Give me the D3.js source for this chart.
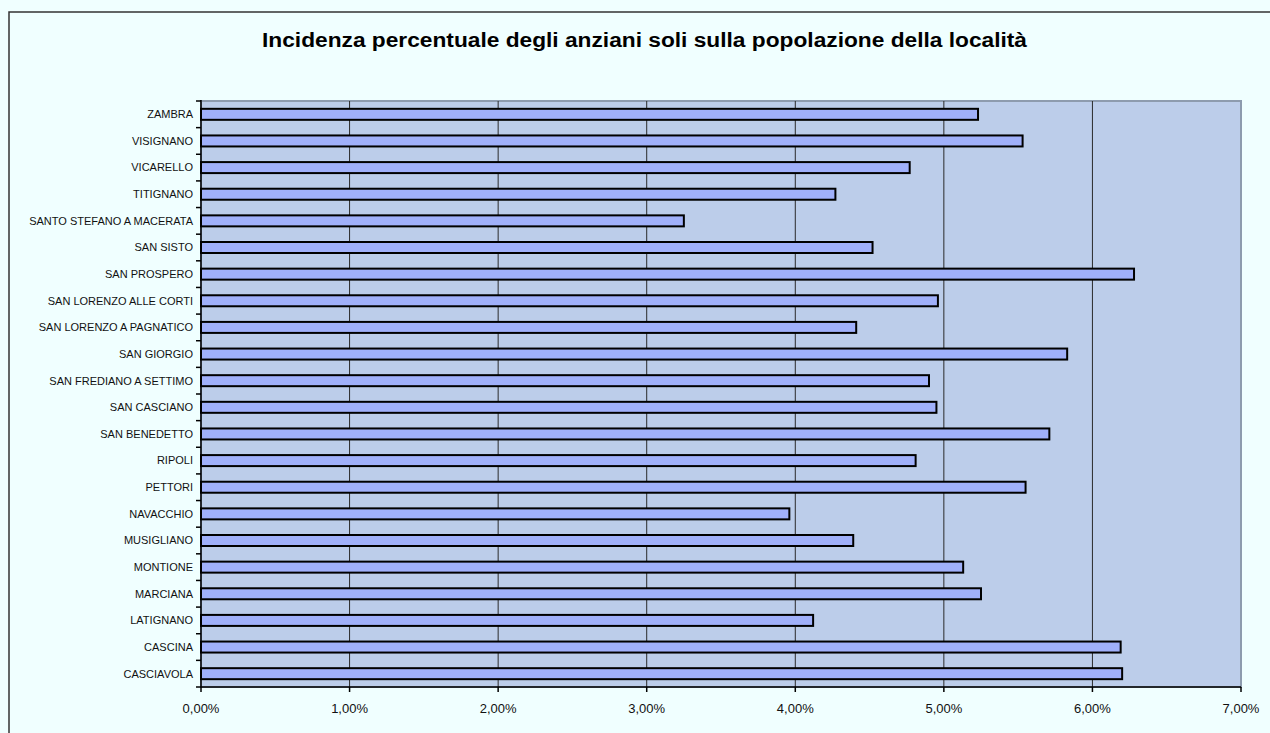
<!DOCTYPE html>
<html>
<head>
<meta charset="utf-8">
<script src="https://cdn.jsdelivr.net/npm/d3@7"></script>
<style>
  body { margin: 0; background: #f0ffff; }
  svg { display: block; font-family: "Liberation Sans", Arial, sans-serif; }
</style>
</head>
<body>
<svg id="chart" width="1270" height="733"></svg>
<script>
// categories from top to bottom, as in the chart
let localita = ["ZAMBRA", "VISIGNANO", "VICARELLO", "TITIGNANO", "SANTO STEFANO A MACERATA",
  "SAN SISTO", "SAN PROSPERO", "SAN LORENZO ALLE CORTI", "SAN LORENZO A PAGNATICO",
  "SAN GIORGIO", "SAN FREDIANO A SETTIMO", "SAN CASCIANO", "SAN BENEDETTO", "RIPOLI",
  "PETTORI", "NAVACCHIO", "MUSIGLIANO", "MONTIONE", "MARCIANA", "LATIGNANO",
  "CASCINA", "CASCIAVOLA"];
let incidenza = [5.23, 5.53, 4.77, 4.27, 3.25, 4.52, 6.28, 4.96, 4.41, 5.83, 4.90, 4.95,
  5.71, 4.81, 5.55, 3.96, 4.39, 5.13, 5.25, 4.12, 6.19, 6.20];
let xTicks = [0, 1, 2, 3, 4, 5, 6, 7];
let titolo = "Incidenza percentuale degli anziani soli sulla popolazione della località";

let svg = d3.select("#chart");
let plotLeft = 201, plotRight = 1241, plotTop = 101, plotBottom = 687;

// outer frame
svg.append("rect")
  .attr("x", 9).attr("y", 12)
  .attr("width", 1300).attr("height", 800)
  .style("fill", "#f0ffff")
  .style("stroke", "#333")
  .style("stroke-width", 1.5);

svg.append("text")
  .attr("x", 644.5).attr("y", 47)
  .attr("text-anchor", "middle")
  .attr("textLength", 765)
  .attr("lengthAdjust", "spacingAndGlyphs")
  .style("font-weight", "bold")
  .style("font-size", "20px")
  .text(titolo);

let x = d3.scaleLinear().domain([0, 7]).range([plotLeft, plotRight]);
let band = d3.scaleBand().domain(localita).range([plotTop, plotBottom]);

// plot area
svg.append("rect")
  .attr("x", plotLeft).attr("y", plotTop)
  .attr("width", plotRight - plotLeft).attr("height", plotBottom - plotTop)
  .style("fill", "#bccdea")
  .style("stroke", "#8d9bae")
  .style("stroke-width", 2);

// gridlines
svg.append("g").selectAll("line")
  .data(xTicks.slice(1, -1))
  .enter().append("line")
  .attr("x1", d => x(d)).attr("x2", d => x(d))
  .attr("y1", plotTop).attr("y2", plotBottom)
  .style("stroke", "#2a2a2a")
  .style("stroke-width", 1);

// bars
svg.append("g").selectAll("rect")
  .data(incidenza)
  .enter().append("rect")
  .attr("x", x(0))
  .attr("y", (d, i) => band(localita[i]) + band.bandwidth() / 2 - 5.5)
  .attr("width", d => x(d) - x(0))
  .attr("height", 11)
  .style("fill", "#a0b0fa")
  .style("stroke", "#000")
  .style("stroke-width", 2);

// y axis
let yAxis = svg.append("g");
yAxis.append("line")
  .attr("x1", plotLeft).attr("x2", plotLeft)
  .attr("y1", plotTop - 1).attr("y2", plotBottom)
  .style("stroke", "#000").style("stroke-width", 1.5);
let boundaries = localita.map(d => band(d)).concat([plotBottom]);
yAxis.selectAll(".ytick")
  .data(boundaries)
  .enter().append("line")
  .attr("x1", plotLeft - 5).attr("x2", plotLeft)
  .attr("y1", d => d).attr("y2", d => d)
  .style("stroke", "#000").style("stroke-width", 1.5);
yAxis.selectAll("text")
  .data(localita)
  .enter().append("text")
  .attr("x", plotLeft - 8)
  .attr("y", d => band(d) + band.bandwidth() / 2)
  .attr("dy", "0.35em")
  .attr("text-anchor", "end")
  .style("font-size", "11px")
  .style("fill", "#111")
  .text(d => d);

// x axis
let xAxis = svg.append("g");
xAxis.append("line")
  .attr("x1", plotLeft).attr("x2", plotRight)
  .attr("y1", plotBottom).attr("y2", plotBottom)
  .style("stroke", "#000").style("stroke-width", 1.5);
xAxis.selectAll(".xtick")
  .data(xTicks)
  .enter().append("line")
  .attr("x1", d => x(d)).attr("x2", d => x(d))
  .attr("y1", plotBottom).attr("y2", plotBottom + 5)
  .style("stroke", "#000").style("stroke-width", 1.5);
xAxis.selectAll("text")
  .data(xTicks)
  .enter().append("text")
  .attr("x", d => x(d))
  .attr("y", 713)
  .attr("text-anchor", "middle")
  .style("font-size", "13px")
  .style("fill", "#111")
  .text(d => d.toFixed(2).replace(".", ",") + "%");
</script>
</body>
</html>
